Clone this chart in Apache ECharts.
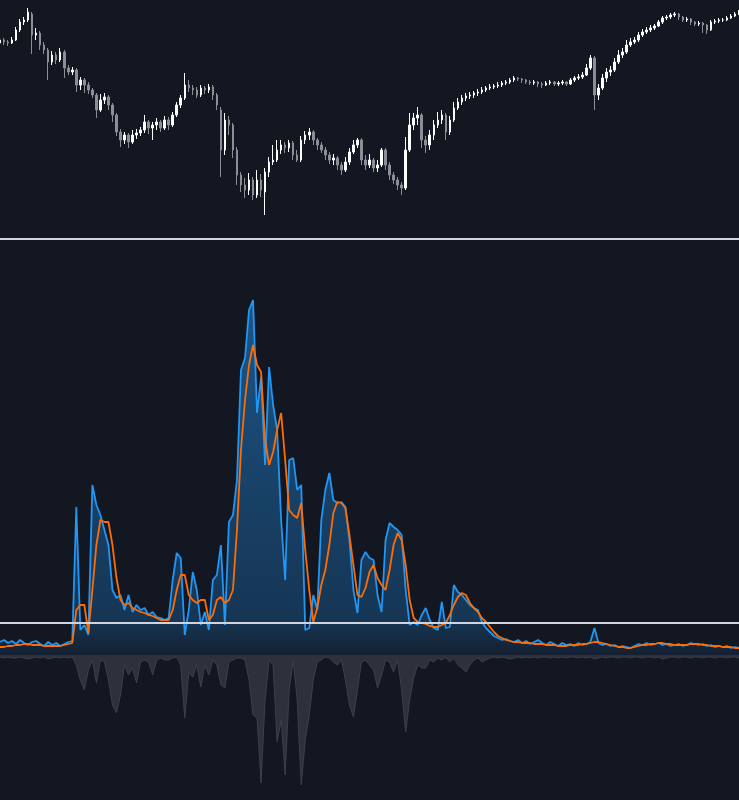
<!DOCTYPE html>
<html>
<head>
<meta charset="utf-8">
<script src="https://cdn.jsdelivr.net/npm/echarts@6/dist/echarts.min.js"></script>
<style>
html,body{margin:0;padding:0;background:#131722;}
#chart{width:739px;height:800px;}
</style>
</head>
<body>
<div id="chart"></div>
<script>
// ---- price (top pane) ----
var openP = [
197,200,198,197,200,210,218,220,226,205,
207,195,190,178,185,180,188,172,168,170,
155,160,155,150,145,130,140,143,135,125,
108,100,105,98,105,107,110,118,112,115,
118,112,120,115,125,135,142,155,152,150,
145,152,150,153,145,130,90,120,115,90,
65,55,50,60,45,60,48,68,78,80,
90,95,92,97,85,80,100,105,108,100,
95,90,85,80,82,75,70,78,88,95,
100,80,75,80,72,75,90,75,65,60,
55,52,90,115,122,125,100,95,105,115,
120,125,108,120,132,138,142,144,145,147,
148,150,152,153,154,155,157,158,160,162,
161,160,158,157,158,156,155,157,158,156,
157,158,156,160,162,163,165,172,182,145,
152,162,168,170,178,185,188,195,198,200,
205,208,210,212,214,218,222,223,225,226,
223,220,221,218,216,217,215,210,218,219,
220,220,222,224,226];
var closeP = [
200,198,197,200,210,218,220,228,205,207,
195,190,178,185,180,188,172,168,170,155,
160,155,150,145,130,140,143,135,125,108,
100,105,98,105,107,110,118,112,115,118,
112,120,115,125,135,142,155,152,150,145,
152,150,153,145,135,90,120,115,90,65,
55,50,60,45,60,50,68,78,80,90,
95,92,97,85,80,100,105,108,100,95,
90,85,80,82,75,70,78,88,95,100,
80,75,80,72,75,90,75,65,60,55,
52,90,115,122,125,100,95,105,115,120,
125,108,120,132,138,142,144,145,147,148,
150,152,153,154,155,157,158,160,162,161,
160,158,157,158,156,155,157,158,156,157,
158,156,160,162,163,165,172,182,145,152,
162,168,170,178,185,188,195,198,200,205,
208,210,212,214,218,222,223,225,226,223,
220,221,218,216,217,215,210,218,219,220,
220,222,224,226,228];
var lowP = [
195,195,194,196,199,208,215,218,186,200,
190,186,160,175,176,178,162,165,165,148,
150,147,146,142,122,128,136,130,118,104,
93,96,92,96,101,104,107,106,100,110,
108,110,110,113,123,132,140,148,145,142,
143,146,147,140,130,63,85,105,82,55,
48,42,45,40,42,43,25,63,75,78,
86,87,88,80,78,78,96,100,95,90,
87,80,76,75,70,65,68,75,86,92,
75,70,72,68,68,73,70,60,56,50,
45,50,88,110,115,92,87,90,100,112,
116,100,105,118,130,135,139,141,142,144,
146,148,150,151,152,153,155,156,158,159,
157,156,155,155,153,152,154,155,154,154,
155,154,155,158,160,161,164,170,130,140,
150,158,164,168,176,182,186,193,196,198,
203,206,208,210,213,216,220,221,223,220,
218,218,215,214,214,207,206,209,216,217,
218,219,221,223,225];
var highP = [
203,202,200,203,213,221,223,232,228,212,
209,198,192,189,188,192,190,175,173,172,
163,162,158,152,147,146,147,145,137,127,
111,108,107,110,111,113,125,120,118,122,
120,124,123,128,138,145,167,160,155,153,
155,154,156,155,147,133,127,124,117,93,
68,62,67,63,70,66,72,83,95,100,
100,98,100,99,90,104,109,112,110,102,
98,93,88,86,84,78,83,92,100,102,
102,85,86,82,80,92,92,78,68,63,
58,103,127,127,133,127,104,110,120,128,
130,127,124,138,142,145,147,148,149,151,
153,154,156,156,158,159,160,162,164,163,
162,161,160,160,159,158,159,160,159,159,
160,159,162,164,166,168,176,185,184,156,
166,172,174,182,190,192,200,202,203,208,
211,213,215,216,220,224,225,227,228,227,
224,223,222,219,219,218,216,220,221,222,
222,224,226,228,230];

// ---- indicator (bottom pane) ----
var blueVals = [
1.3,1.5,1.2,1.4,1.1,1.5,1.2,1.0,1.3,1.4,
1.1,0.9,1.3,1.0,1.2,0.9,1.1,1.3,1.4,14.8,
2.5,3.0,2.0,17.0,15.0,14.0,12.5,11.0,6.5,5.7,
6.0,4.5,6.0,4.3,5.0,4.5,4.7,4.0,4.3,3.8,
3.7,3.5,3.7,7.5,10.2,9.7,2.0,4.5,8.3,6.5,
3.0,4.3,2.5,7.5,8.0,11.0,3.0,13.3,14.0,17.5,
28.5,29.7,34.5,35.5,24.2,27.8,19.0,28.8,25.0,22.5,
13.5,7.5,19.5,19.7,16.5,17.0,2.5,2.7,6.0,4.5,
13.5,16.5,18.2,15.5,15.2,15.3,14.8,11.5,6.5,4.2,
9.5,10.3,9.7,9.5,6.0,4.3,11.5,13.2,12.8,12.5,
12.0,6.5,3.0,3.3,3.0,4.0,4.7,3.5,2.7,2.5,
5.3,2.7,2.8,7.0,6.3,6.0,5.5,5.0,4.7,4.5,
3.3,2.7,2.3,1.9,1.7,1.5,1.6,1.4,1.3,1.5,
1.2,1.4,1.1,1.3,1.5,1.2,1.0,1.3,1.1,0.9,
1.2,1.0,1.1,0.9,1.2,1.0,1.1,1.3,2.7,1.2,
1.0,1.1,0.9,1.0,0.8,0.9,0.8,0.7,0.9,1.1,
1.0,1.2,1.0,1.1,1.2,1.0,1.1,0.9,1.0,1.1,
0.9,1.0,1.2,1.1,1.0,1.1,0.9,1.0,0.8,0.9,
0.8,0.9,0.7,0.8,0.7];
var orangeVals = [
0.8,0.8,0.9,0.9,1.0,1.0,1.1,1.1,1.0,1.0,
1.0,0.9,0.9,0.9,0.9,0.9,1.0,1.1,1.2,4.5,
5.0,5.0,2.2,6.5,11.0,13.5,13.3,13.3,11.0,7.7,
5.5,5.0,5.2,4.7,4.5,4.3,4.2,4.0,3.9,3.7,
3.5,3.5,3.5,4.5,6.5,8.0,8.0,6.0,5.5,5.2,
5.5,5.5,3.5,4.0,5.5,5.8,5.2,5.5,6.5,12.5,
20.5,25.5,29.0,31.0,29.0,28.3,21.5,19.0,20.3,22.5,
24.2,19.5,14.5,14.0,13.7,15.2,10.5,6.5,3.3,4.7,
7.0,8.5,11.0,14.2,15.3,15.2,14.7,12.0,9.0,6.0,
5.8,6.7,8.3,9.0,7.7,7.0,6.5,8.5,11.0,12.2,
11.5,9.0,5.5,3.7,3.3,3.2,3.1,2.9,2.8,2.8,
3.0,3.2,4.0,5.0,5.8,6.2,6.0,5.2,4.7,4.3,
3.7,3.3,2.8,2.3,1.9,1.7,1.5,1.4,1.3,1.3,
1.2,1.2,1.2,1.1,1.1,1.1,1.0,1.0,1.0,0.9,
0.9,0.9,1.0,1.0,1.0,1.1,1.1,1.2,1.3,1.3,
1.2,1.1,1.0,0.9,0.8,0.8,0.7,0.7,0.8,0.9,
1.0,1.0,1.1,1.1,1.2,1.2,1.1,1.1,1.0,1.0,
1.0,1.0,1.1,1.1,1.1,1.0,1.0,0.9,0.9,0.9,
0.8,0.8,0.8,0.7,0.7];
var grayVals = [
-0.2,-0.3,-0.2,-0.3,-0.3,-0.2,-0.3,-0.4,-0.3,-0.2,
-0.3,-0.2,-0.4,-0.3,-0.2,-0.3,-0.2,-0.3,-0.2,-1.0,
-2.5,-3.5,-1.5,-0.5,-2.8,-0.5,-0.7,-2.5,-5.0,-5.8,
-4.0,-1.0,-2.0,-1.3,-2.8,-0.7,-0.5,-0.7,-2.0,-0.5,
-0.3,-0.5,-0.5,-0.3,-0.2,-1.0,-6.3,-1.8,-2.2,-1.0,
-3.2,-1.0,-2.0,-0.5,-1.0,-3.0,-3.3,-0.7,-0.5,-0.3,
-0.3,-0.5,-2.5,-6.0,-6.3,-12.8,-4.5,-0.5,-1.0,-8.7,
-6.5,-12.0,-3.5,-0.5,-4.5,-13.0,-8.5,-6.0,-2.5,-0.7,
-0.5,-0.2,-0.3,-0.7,-1.0,-0.5,-2.5,-5.0,-6.2,-3.5,
-0.7,-0.5,-1.0,-1.5,-3.3,-2.0,-0.5,-0.7,-1.7,-0.5,
-3.5,-7.7,-4.5,-2.3,-1.0,-1.3,-1.3,-0.5,-0.7,-0.3,
-0.5,-0.2,-0.7,-0.3,-1.0,-1.3,-1.7,-1.0,-0.5,-0.3,
-0.7,-0.5,-0.3,-0.2,-0.3,-0.2,-0.3,-0.4,-0.3,-0.2,
-0.3,-0.2,-0.3,-0.2,-0.3,-0.2,-0.2,-0.3,-0.2,-0.3,
-0.2,-0.3,-0.2,-0.2,-0.3,-0.2,-0.3,-0.2,-0.4,-0.3,
-0.2,-0.3,-0.2,-0.2,-0.3,-0.2,-0.2,-0.3,-0.2,-0.2,
-0.3,-0.2,-0.2,-0.3,-0.2,-0.4,-0.3,-0.2,-0.2,-0.3,
-0.2,-0.2,-0.3,-0.2,-0.2,-0.3,-0.2,-0.2,-0.3,-0.2,
-0.2,-0.3,-0.2,-0.2,-0.3];
var threshold = 3.2;
var categories = closeP.map(function(_, i){ return 'D' + (i + 1); });

var candles = closeP.map(function(c, i){ return [openP[i], c, lowP[i], highP[i]]; });

var chart = echarts.init(document.getElementById('chart'), null, {renderer: 'canvas'});
chart.setOption({
  backgroundColor: '#131722',
  animation: false,
  grid: [
    {left: 0, right: 0, top: 0, height: 239},
    {left: 0, right: 0, top: 240, height: 560}
  ],
  xAxis: [
    {type: 'category', gridIndex: 0, data: categories, boundaryGap: false,
     axisLine: {show: true, lineStyle: {color: '#d1d4dc', width: 2}},
     axisTick: {show: false}, axisLabel: {show: false}, splitLine: {show: false}},
    {type: 'category', gridIndex: 1, data: categories, boundaryGap: false,
     axisLine: {show: false}, axisTick: {show: false}, axisLabel: {show: false}, splitLine: {show: false}}
  ],
  yAxis: [
    {type: 'value', gridIndex: 0, min: 1, max: 240, show: false, splitLine: {show: false}},
    {type: 'value', gridIndex: 1, min: -14.5, max: 41.5, show: false, splitLine: {show: false}}
  ],
  series: [
    {
      type: 'candlestick', xAxisIndex: 0, yAxisIndex: 0, data: candles,
      barMaxWidth: 2,
      itemStyle: {color: '#ffffff', color0: '#8b8e97', borderColor: '#ffffff', borderColor0: '#8b8e97', borderWidth: 1}
    },
    {
      type: 'line', xAxisIndex: 1, yAxisIndex: 1, data: grayVals,
      symbol: 'none', lineStyle: {color: '#3c404b', width: 1},
      areaStyle: {color: '#2d313c', opacity: 1}, z: 2
    },
    {
      type: 'line', xAxisIndex: 1, yAxisIndex: 1, data: blueVals,
      symbol: 'none', lineStyle: {color: '#2196f3', width: 1.8},
      areaStyle: {
        color: new echarts.graphic.LinearGradient(0, 0, 0, 1, [
          {offset: 0, color: 'rgba(33,150,243,0.7)'},
          {offset: 0.6, color: 'rgba(33,150,243,0.45)'},
          {offset: 0.9, color: 'rgba(33,150,243,0.35)'},
          {offset: 1, color: 'rgba(33,150,243,0.1)'}
        ])
      },
      markLine: {
        silent: true, symbol: 'none', label: {show: false},
        lineStyle: {color: '#d1d4dc', width: 2, type: 'solid'},
        data: [{yAxis: threshold}]
      },
      z: 3
    },
    {
      type: 'line', xAxisIndex: 1, yAxisIndex: 1, data: orangeVals,
      symbol: 'none', lineStyle: {color: '#ff6d00', width: 1.8}, z: 4
    }
  ]
});
</script>
</body>
</html>
